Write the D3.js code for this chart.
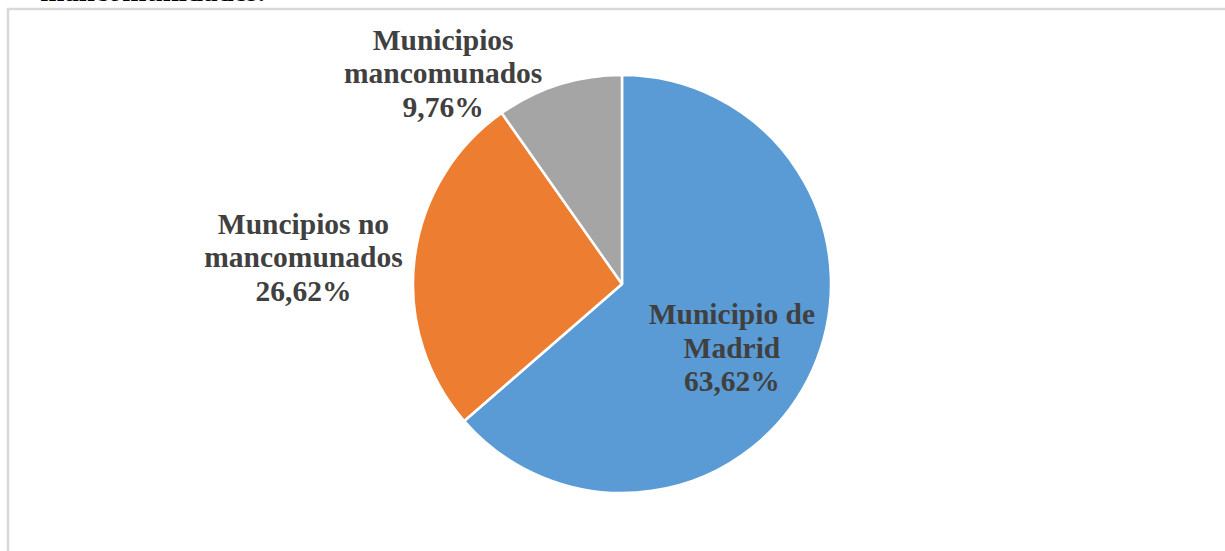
<!DOCTYPE html>
<html>
<head>
<meta charset="utf-8">
<script src="https://cdn.jsdelivr.net/npm/d3@7"></script>
<style>
  body { margin: 0; background: #fff; }
  svg { display: block; }
</style>
</head>
<body>
<svg id="chart" width="1225" height="551"></svg>
<script>
// categories, values and colours
var categories = ['Municipio de Madrid', 'Muncipios no mancomunados', 'Municipios mancomunados'];
var values = [63.62, 26.62, 9.76];
var colors = ['#5B9BD5', '#ED7D31', '#A5A5A5'];
// label lines (Excel wraps them like this)
var labelLines = [
  ['Municipio de', 'Madrid'],
  ['Muncipios no', 'mancomunados'],
  ['Municipios', 'mancomunados']
];

var svg = d3.select('#chart');
var W = 1225, H = 551;
var cx = 622, cy = 284, R = 209;
var fmt = function(v) { return d3.format('.2f')(v).replace('.', ',') + '%'; };

// title cut off at the top of the screenshot
svg.append('text')
  .attr('x', 265).attr('y', 1)
  .attr('text-anchor', 'end')
  .style('font-family', '"Liberation Serif", "Times New Roman", serif')
  .style('font-weight', 'bold')
  .style('font-size', '29px')
  .style('fill', '#000')
  .text('mancomunidades.');

// chart frame (only top and left visible)
svg.append('path')
  .attr('d', 'M8,' + H + 'V9H' + W)
  .attr('fill', 'none')
  .attr('stroke', '#d9d9d9')
  .attr('stroke-width', 2.5);

var data = categories.map(function(c, i) {
  return {name: c, value: values[i], color: colors[i], lines: labelLines[i]};
});

var pie = d3.pie().sort(null).value(function(d) { return d.value; });
var arc = d3.arc().innerRadius(0).outerRadius(R);
var arcs = pie(data);

var g = svg.append('g').attr('transform', 'translate(' + cx + ',' + cy + ')');

g.selectAll('path.slice').data(arcs).enter()
  .append('path')
  .attr('class', 'slice')
  .attr('d', arc)
  .attr('fill', function(d) { return d.data.color; })
  .attr('stroke', '#fff')
  .attr('stroke-width', 2.5)
  .attr('stroke-linejoin', 'round');

// labels
var lineH = 33.5;
var insideArc = d3.arc().innerRadius(R * 0.62).outerRadius(R * 0.62);

arcs.forEach(function(d, i) {
  var lines = d.data.lines.concat([fmt(d.data.value)]);
  var t = g.append('text')
    .attr('text-anchor', 'middle')
    .style('font-family', '"Liberation Serif", "Times New Roman", serif')
    .style('font-weight', 'bold')
    .style('font-size', '29.5px')
    .style('fill', '#404040');
  lines.forEach(function(l, j) {
    t.append('tspan').attr('x', 0).attr('y', (j - 1) * lineH + 10).text(l);
  });

  var p;
  if (i === 0) {
    // big slice: label inside, nudged like Excel's best fit
    var c = insideArc.centroid(d);
    p = [c[0] - 8, c[1] + 10];
  } else {
    // outside label next to the pie edge
    var mid = (d.startAngle + d.endAngle) / 2;
    var rr = R + 12;
    var px = rr * Math.sin(mid), py = -rr * Math.cos(mid);
    var bb = t.node().getBBox();
    p = [px + (px < 0 ? -bb.width / 2 : bb.width / 2), py];
    // labels near the top get pushed further out sideways
    if (Math.cos(mid) > 0.9) p[0] -= 13;
  }
  t.attr('transform', 'translate(' + p[0] + ',' + p[1] + ')');
});
</script>
</body>
</html>
